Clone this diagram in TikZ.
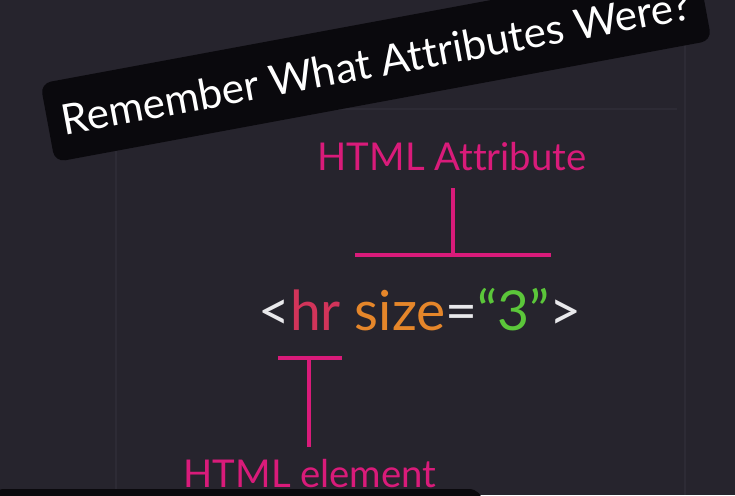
\documentclass[tikz,border=0pt]{standalone}
\usepackage{fontspec}
\setmainfont{Lato}[Ligatures={TeX,NoCommon}]
\usepackage{tikz}
\usetikzlibrary{positioning,calc}
\definecolor{slatebg}{HTML}{26242D}
\definecolor{panelline}{HTML}{2D2B35}
\definecolor{bannerblack}{HTML}{0A090D}
\definecolor{tagpink}{HTML}{D91B7A}
\definecolor{tagred}{HTML}{D2345A}
\definecolor{attrorange}{HTML}{E5862A}
\definecolor{valgreen}{HTML}{5BC63A}
\definecolor{codewhite}{HTML}{E9E9EC}

\begin{document}
\begin{tikzpicture}[x=0.02cm,y=-0.02cm,
    label/.style={text=tagpink,font=\fontsize{21.8}{26}\selectfont,inner sep=0pt,anchor=base},
    tbar/.style={draw=tagpink,line width=2.3pt}]
  \fill[slatebg] (0,0) rectangle (735,495);
  \useasboundingbox (0,0) rectangle (735,495);
  \draw[panelline,line width=0.7pt] (116,495) -- (116,109) -- (677,109);
  \draw[panelline,line width=0.8pt] (685,0) -- (685,495);
  \fill[bannerblack,rounded corners=8pt] (-10,489) rectangle (483,510);
  \node[fill=bannerblack,rounded corners=6pt,rotate=10.5,minimum width=13.36cm,minimum height=1.6cm,
        text=white,font=\fontsize{24}{28}\selectfont] (banner) at (376,62) {Remember What Attributes Were?};
  \node[label] (attr) at (452,170) {HTML Attribute};
  \node[inner sep=0pt,anchor=base,font=\fontsize{31.4}{36}\selectfont,text=codewhite] (code) at (420,330)
    {<\textcolor{tagred}{hr} \textcolor{attrorange}{size}=\textcolor{valgreen}{“3”}>};
  \node[label] (elem) at (310,487) {HTML element};
  \coordinate (attrL) at (355,255); \coordinate (attrR) at (551,255);
  \coordinate (attrTop) at (453,188); \coordinate (attrFoot) at (453,255);
  \draw[tbar] (attrL) -- (attrR);
  \draw[tbar] (attrTop) -- (attrFoot);
  \coordinate (elemL) at (278,358); \coordinate (elemR) at (342,358);
  \coordinate (elemHead) at (309,358); \coordinate (elemFoot) at (309,447);
  \draw[tbar] (elemL) -- (elemR);
  \draw[tbar] (elemHead) -- (elemFoot);
\end{tikzpicture}
\end{document}
